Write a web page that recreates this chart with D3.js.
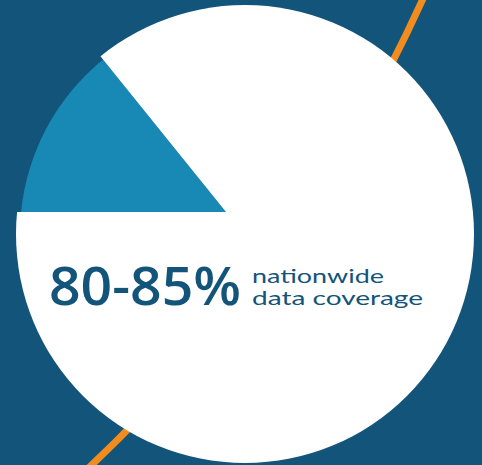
<!DOCTYPE html>
<html>
<head>
<meta charset="utf-8">
<script src="https://cdn.jsdelivr.net/npm/d3@7"></script>
<style>
  html, body { margin: 0; padding: 0; background: #12547a; }
  svg { display: block; }
</style>
</head>
<body>
<script>
// slice data: share of the whole, gap slice first so it starts at 9 o'clock
var sliceNames = ["no data", "data coverage"];
var sliceValues = [14.2, 85.8];
var sliceColors = ["#1888b5", "#ffffff"];

// headline text
var bigLabel = "80-85%";
var smallLines = ["nationwide", "data coverage"];

// decorative orange arc behind the circle: ends of a big circle arc
var arcEnds = [[426, -8], [86, 471]];
var arcCentre = [-943, -621], arcRadius = 1500;

var width = 482, height = 465;
var cx = 245, cy = 234;          // circle centre
var apex = [226, 212];           // where the slices meet
var radii = [225, 229];          // gap slice is a touch smaller

var svg = d3.select("body").append("svg")
  .attr("width", width)
  .attr("height", height);

svg.append("rect")
  .attr("width", width).attr("height", height)
  .attr("fill", "#12547a");

// angle of a point seen from the arc centre, d3 style (0 = up, clockwise)
var ang = p => Math.atan2(p[0] - arcCentre[0], -(p[1] - arcCentre[1]));
var bigArc = d3.path();
bigArc.arc(arcCentre[0], arcCentre[1], arcRadius,
  ang(arcEnds[0]) - Math.PI / 2, ang(arcEnds[1]) - Math.PI / 2);
svg.append("path")
  .attr("fill", "none")
  .attr("stroke", "#f28c1f")
  .attr("stroke-width", 7)
  .attr("d", bigArc.toString());

var pie = d3.pie().sort(null).startAngle(-Math.PI / 2).endAngle(Math.PI * 1.5);
var slices = pie(sliceValues);

// big wedge from the apex, used to cut each slice out of the circle
var wedge = d3.arc().innerRadius(0).outerRadius(800);

var defs = svg.append("defs");
defs.selectAll("clipPath")
  .data(slices)
  .enter().append("clipPath")
  .attr("id", (d, i) => "slice" + i)
  .append("path")
  .attr("transform", "translate(" + apex[0] + "," + apex[1] + ")")
  .attr("d", wedge);

svg.selectAll("circle.slice")
  .data(slices)
  .enter().append("circle")
  .attr("class", "slice")
  .attr("cx", cx)
  .attr("cy", cy)
  .attr("r", (d, i) => radii[i])
  .attr("fill", (d, i) => sliceColors[i])
  .attr("clip-path", (d, i) => "url(#slice" + i + ")");

// labels
svg.append("text")
  .attr("x", 49)
  .attr("y", 305)
  .attr("font-family", "'Open Sans', Lato, sans-serif")
  .attr("font-weight", 600)
  .attr("font-size", 52)
  .attr("fill", "#13547a")
  .attr("textLength", 192)
  .attr("lengthAdjust", "spacingAndGlyphs")
  .text(bigLabel);

var smallWidths = [132, 171];
svg.selectAll("text.small")
  .data(smallLines)
  .enter().append("text")
  .attr("class", "small")
  .attr("x", 252)
  .attr("y", (d, i) => 283 + i * 22)
  .attr("font-family", "Lato, 'Open Sans', sans-serif")
  .attr("font-weight", 400)
  .attr("font-size", 20)
  .attr("fill", "#13547a")
  .attr("textLength", (d, i) => smallWidths[i])
  .attr("lengthAdjust", "spacingAndGlyphs")
  .text(d => d);
</script>
</body>
</html>
